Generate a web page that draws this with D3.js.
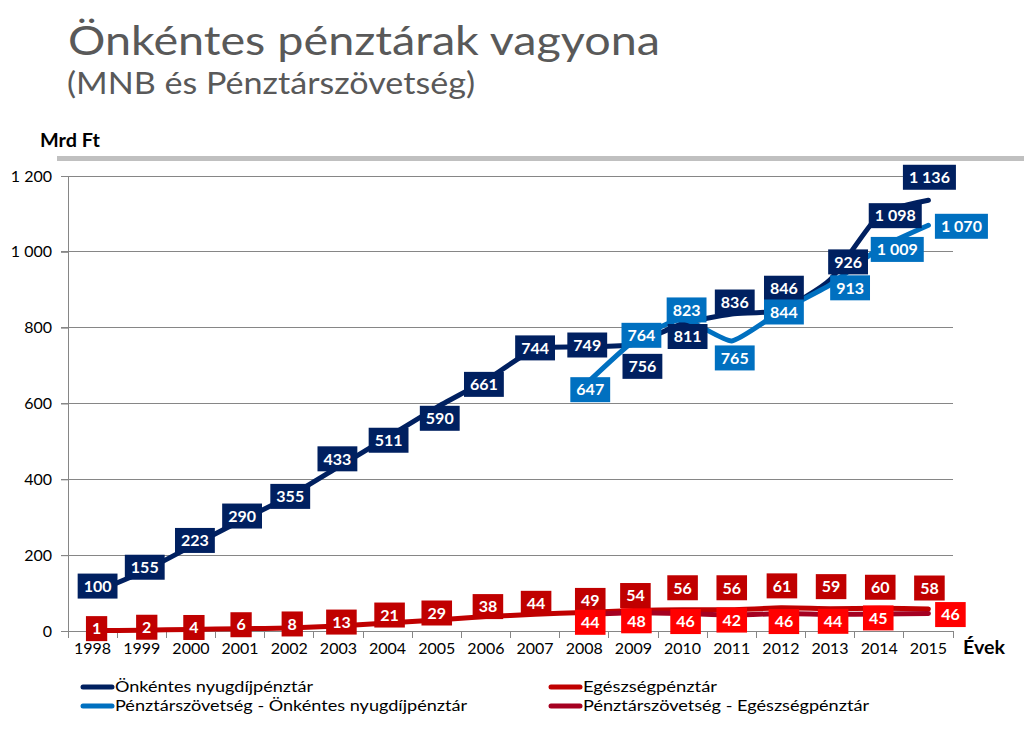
<!DOCTYPE html>
<html><head><meta charset="utf-8">
<script src="https://cdn.jsdelivr.net/npm/d3@7"></script>
<style>
html,body{margin:0;padding:0;background:#fff;}
svg{display:block;font-family:Lato,"Open Sans",sans-serif;}
</style></head>
<body><svg id="c" width="1024" height="736"></svg>
<script>
// ---- data ----
const years = ["1998","1999","2000","2001","2002","2003","2004","2005","2006","2007","2008","2009","2010","2011","2012","2013","2014","2015"];
const pszYears = ["2008","2009","2010","2011","2012","2013","2014","2015"];
const mnbNyugdij = [100,155,223,290,355,433,511,590,661,744,749,756,811,836,846,926,1098,1136];
const mnbEgeszseg = [1,2,4,6,8,13,21,29,38,44,49,54,56,56,61,59,60,58];
const pszNyugdij = [647,764,823,765,844,913,1009,1070];
const pszEgeszseg = [44,48,46,42,46,44,45,46];
const yTicks = [0,200,400,600,800,1000,1200];
const seriesNames = ["Önkéntes nyugdíjpénztár","Egészségpénztár","Pénztárszövetség - Önkéntes nyugdíjpénztár","Pénztárszövetség - Egészségpénztár"];
// label nudges (px) relative to each point
const nudgeMnbNy = [[5,-7],[3,-5],[4,-6],[2,-5],[1,0],[-1,-8],[1,3],[3,11],[-2,4],[0,-1],[3,-2],[9,22],[5,13],[3,-12],[3,-22],[18,-18],[16,1],[1,-23]];
const nudgePszNy = [[6,4],[8,-6],[4,-9],[3,17],[3,1],[20,3],[18,1],[33,1]];
const nudgeMnbEg = [[4,-2],[5,-3],[3,-2],[1,-4],[3,-4],[3,-4],[2,-8],[0,-7],[2,-10],[1,-11],[6,-12],[2,-15],[0,-22],[0,-22],[1,-22],[1,-22],[1,-21],[1,-21]];
const nudgePszEg = [[6,8],[3,8],[3,8],[0,5],[3,8],[3,7],[-1,4],[22,1]];

const C = {navy:"#002060", blue:"#0070C0", red:"#C00000", crimson:"#A50021", bright:"#FF0000"};

const svg = d3.select("#c");
const fmt = d3.formatLocale({decimal:",",thousands:"\u00a0",grouping:[3],currency:["",""]}).format(",d");

function fitText(sel, target){
  const w = sel.node().getComputedTextLength();
  const fs = parseFloat(sel.attr("font-size"));
  sel.attr("font-size", fs*target/w);
}

// title
svg.append("text").attr("x",68).attr("y",55).attr("font-size",41).attr("fill","#595959")
  .attr("textLength",592).attr("lengthAdjust","spacingAndGlyphs")
  .text("Önkéntes pénztárak vagyona");
svg.append("text").attr("x",67).attr("y",94).attr("font-size",30).attr("fill","#595959")
  .attr("textLength",408).attr("lengthAdjust","spacingAndGlyphs")
  .text("(MNB és Pénztárszövetség)");
fitText(svg.append("text").attr("x",40).attr("y",147).attr("font-size",18).attr("font-weight","bold").attr("fill","#000")
  .text("Mrd Ft"), 60);
svg.append("rect").attr("x",57).attr("y",156).attr("width",967).attr("height",5).attr("fill","#c0c0c0");

// scales
const x = d3.scaleBand().domain(years).range([68,953]);
const cx = d => x(d) + x.bandwidth()/2;
const y = d3.scaleLinear().domain([0,1200]).range([631,176]);

// gridlines
svg.append("g").selectAll("line").data(yTicks.filter(t=>t>0)).join("line")
  .attr("x1",61).attr("x2",953).attr("y1",d=>y(d)).attr("y2",d=>y(d))
  .attr("stroke","#868686").attr("stroke-width",1).attr("shape-rendering","crispEdges");

// y axis
const yAxis = d3.axisLeft(y).tickValues(yTicks).tickFormat(fmt).tickSize(7).tickPadding(9);
const gy = svg.append("g").attr("transform","translate(68,0)").call(yAxis);
gy.select(".domain").attr("stroke","#868686");
gy.selectAll(".tick line").attr("stroke","#868686");
gy.selectAll("text").attr("font-size",16).attr("fill","#000").attr("font-family","Lato");

// x axis
const xAxis = d3.axisBottom(x).tickSize(0).tickPadding(12);
const gx = svg.append("g").attr("transform","translate(0,631)").call(xAxis);
gx.select(".domain").attr("stroke","#868686");
gx.selectAll("text").attr("font-size",16).attr("fill","#000").attr("font-family","Lato");
svg.append("g").selectAll("line").data(years.concat(["end"])).join("line")
  .attr("x1",(d,i)=>68+i*x.step()).attr("x2",(d,i)=>68+i*x.step())
  .attr("y1",631).attr("y2",638).attr("stroke","#868686").attr("shape-rendering","crispEdges");
fitText(svg.append("text").attr("x",963).attr("y",654).attr("font-size",18).attr("font-weight","bold").attr("fill","#000")
  .text("Évek"), 42);

// lines
const line = d3.line().x(d=>cx(d.year)).y(d=>y(d.v)).curve(d3.curveCardinal.tension(0.5));
const mk = (yrs, vals) => yrs.map((yr,i)=>({year:yr, v:vals[i]}));
const series = [
  {data:mk(years,mnbNyugdij), color:C.navy, lbl:C.navy, nudge:nudgeMnbNy},
  {data:mk(years,mnbEgeszseg), color:C.red, lbl:C.red, nudge:nudgeMnbEg},
  {data:mk(pszYears,pszNyugdij), color:C.blue, lbl:C.blue, nudge:nudgePszNy},
  {data:mk(pszYears,pszEgeszseg), color:C.crimson, lbl:C.bright, nudge:nudgePszEg}
];
series.forEach(s=>{
  svg.append("path").attr("d",line(s.data)).attr("fill","none").attr("stroke",s.color)
    .attr("stroke-width",5).attr("stroke-linejoin","round").attr("stroke-linecap","round");
});

// labels
series.forEach(s=>{
  const g = svg.append("g");
  s.data.forEach((d,i)=>{
    const px = cx(d.year)+s.nudge[i][0], py = y(d.v)+s.nudge[i][1];
    const lg = g.append("g");
    const r = lg.append("rect").attr("fill",s.lbl);
    const t = lg.append("text").attr("x",px).attr("y",py).attr("text-anchor","middle")
      .attr("dy","0.36em").attr("font-size",16).attr("font-weight","bold").attr("fill","#fff")
      .text(fmt(d.v));
    const w = t.node().getComputedTextLength()+12;
    r.attr("x",px-w/2).attr("y",py-12.5).attr("width",w).attr("height",25);
  });
});

// legend
const leg = [
  {name:seriesNames[0], color:C.navy, x:80, y:687, w:198},
  {name:seriesNames[1], color:C.red, x:548, y:687, w:134},
  {name:seriesNames[2], color:C.blue, x:80, y:706, w:352},
  {name:seriesNames[3], color:C.crimson, x:548, y:706, w:286}
];
const lg = svg.append("g");
leg.forEach(l=>{
  lg.append("line").attr("x1",l.x+3).attr("x2",l.x+32).attr("y1",l.y).attr("y2",l.y)
    .attr("stroke",l.color).attr("stroke-width",5).attr("stroke-linecap","round");
  lg.append("text").attr("x",l.x+35).attr("y",l.y).attr("dy","0.35em").attr("font-size",15.5)
    .attr("textLength",l.w).attr("lengthAdjust","spacingAndGlyphs")
    .attr("fill","#000").text(l.name);
});
</script></body></html>
